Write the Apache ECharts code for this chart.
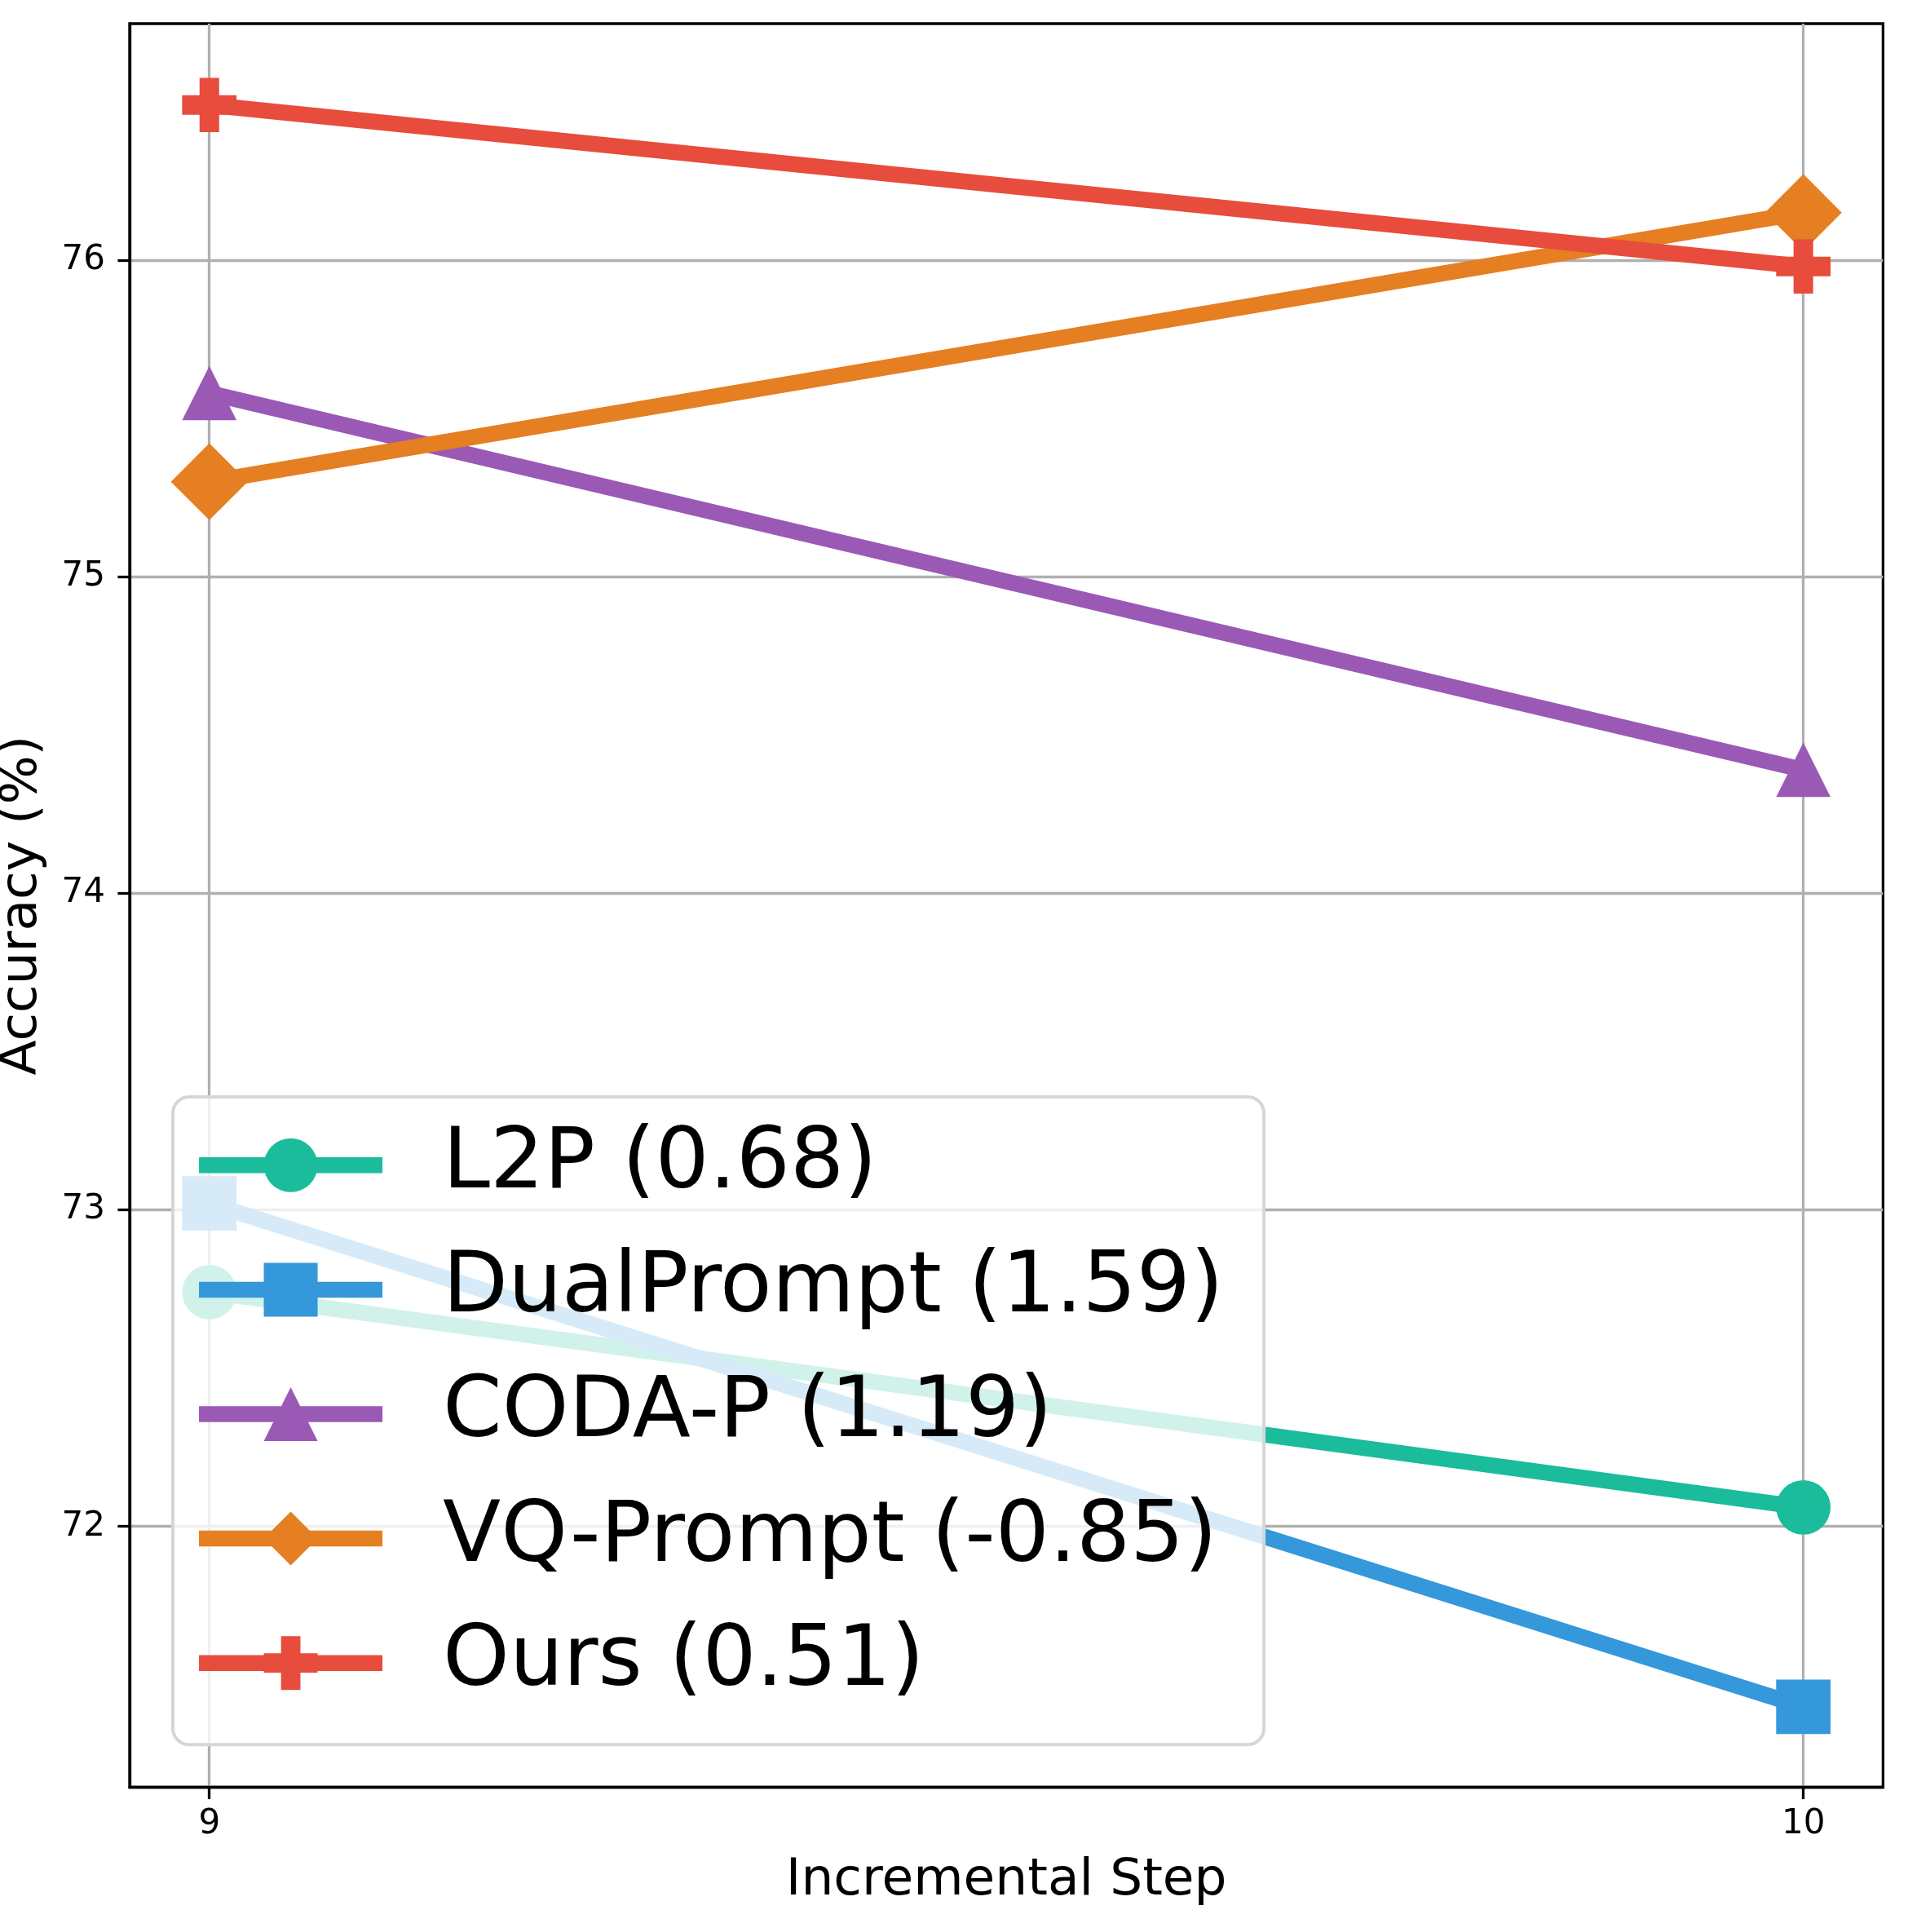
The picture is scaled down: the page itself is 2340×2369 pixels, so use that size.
<!DOCTYPE html>
<html>
<head>
<meta charset="utf-8">
<script src="https://cdn.jsdelivr.net/npm/echarts@6/dist/echarts.min.js"></script>
<style>
html,body{margin:0;padding:0;background:#fff;}
#chart{width:2340px;height:2369px;}
</style>
</head>
<body>
<div id="chart"></div>
<script>
// ---- data ----
var steps = [9, 10];
var xTicks = [9, 10];
var yTicks = [72, 73, 74, 75, 76];
var seriesNames = ['L2P (0.68)', 'DualPrompt (1.59)', 'CODA-P (1.19)', 'VQ-Prompt (-0.85)', 'Ours (0.51)'];
var l2p = [72.74, 72.06];
var dualPrompt = [73.02, 71.43];
var codaP = [75.58, 74.39];
var vqPrompt = [75.30, 76.15];
var ours = [76.49, 75.98];
var colors = ['#1abc9c', '#3498db', '#9b59b6', '#e67e22', '#e74c3c'];

var FONT = 'DejaVu Sans';
var LINE_W = 19.5;
var plusPath = 'path://M32 0H68V32H100V68H68V100H32V68H0V32H32Z';
var values = [l2p, dualPrompt, codaP, vqPrompt, ours];
var symbols = ['circle', 'rect', 'triangle', 'diamond', plusPath];
var symbolSizes = [66.7, 66.7, 66.7, 94.3, 66.7];

function pairs(arr) {
  return steps.map(function (s, i) { return [s, arr[i]]; });
}

var series = values.map(function (arr, i) {
  return {
    name: seriesNames[i],
    type: 'line',
    data: pairs(arr),
    symbol: symbols[i],
    symbolSize: symbolSizes[i],
    showAllSymbol: true,
    clip: false,
    itemStyle: { color: colors[i], opacity: 1 },
    lineStyle: { color: colors[i], width: LINE_W },
    emphasis: { disabled: true },
    animation: false
  };
});

var chart = echarts.init(document.getElementById('chart'), null, { renderer: 'canvas' });
chart.setOption({
  backgroundColor: '#ffffff',
  animation: false,
  grid: {
    left: 159, right: 30.6, top: 29, bottom: 177.5,
    show: true, borderColor: '#000000', borderWidth: 3.3, backgroundColor: 'transparent',
    containLabel: false, outerBoundsMode: 'none'
  },
  xAxis: {
    type: 'value', min: 8.95, max: 10.05,
    name: 'Incremental Step', nameLocation: 'middle', nameGap: 84,
    nameTextStyle: { fontFamily: FONT, fontSize: 63, color: '#000' },
    axisLine: { show: true, onZero: false, lineStyle: { color: '#000', width: 3.3 } },
    axisTick: { show: true, inside: false, length: 14.6, customValues: xTicks, lineStyle: { color: '#000', width: 3.3 } },
    axisLabel: { show: true, margin: 25, customValues: xTicks, fontFamily: FONT, fontSize: 42, color: '#000',
      formatter: function (v) { return String(v); } },
    splitLine: { show: true, lineStyle: { color: '#b0b0b0', width: 3.3 } }
  },
  yAxis: {
    type: 'value', min: 71.176, max: 76.747,
    name: 'Accuracy (%)', nameLocation: 'middle', nameGap: 100,
    nameTextStyle: { fontFamily: FONT, fontSize: 63, color: '#000' },
    axisLine: { show: true, onZero: false, lineStyle: { color: '#000', width: 3.3 } },
    axisTick: { show: true, inside: false, length: 14.6, customValues: yTicks, lineStyle: { color: '#000', width: 3.3 } },
    axisLabel: { show: true, margin: 30, customValues: yTicks, fontFamily: FONT, fontSize: 42, color: '#000',
      formatter: function (v) { return String(v); } },
    splitLine: { show: true, lineStyle: { color: '#b0b0b0', width: 3.3 } }
  },
  legend: {
    data: seriesNames,
    orient: 'vertical',
    left: 212, top: 1345,
    padding: [31.8, 49.6, 48, 22.3],
    itemWidth: 225, itemHeight: 82.5, itemGap: 48.6,
    backgroundColor: 'rgba(255,255,255,0.8)',
    borderColor: '#d6d6d6', borderWidth: 4, borderRadius: 20,
    selectedMode: false,
    lineStyle: { width: LINE_W },
    textStyle: { fontFamily: FONT, fontSize: 104, color: '#000', padding: [0, 0, 0, 69] }
  },
  series: series
});
</script>
</body>
</html>
